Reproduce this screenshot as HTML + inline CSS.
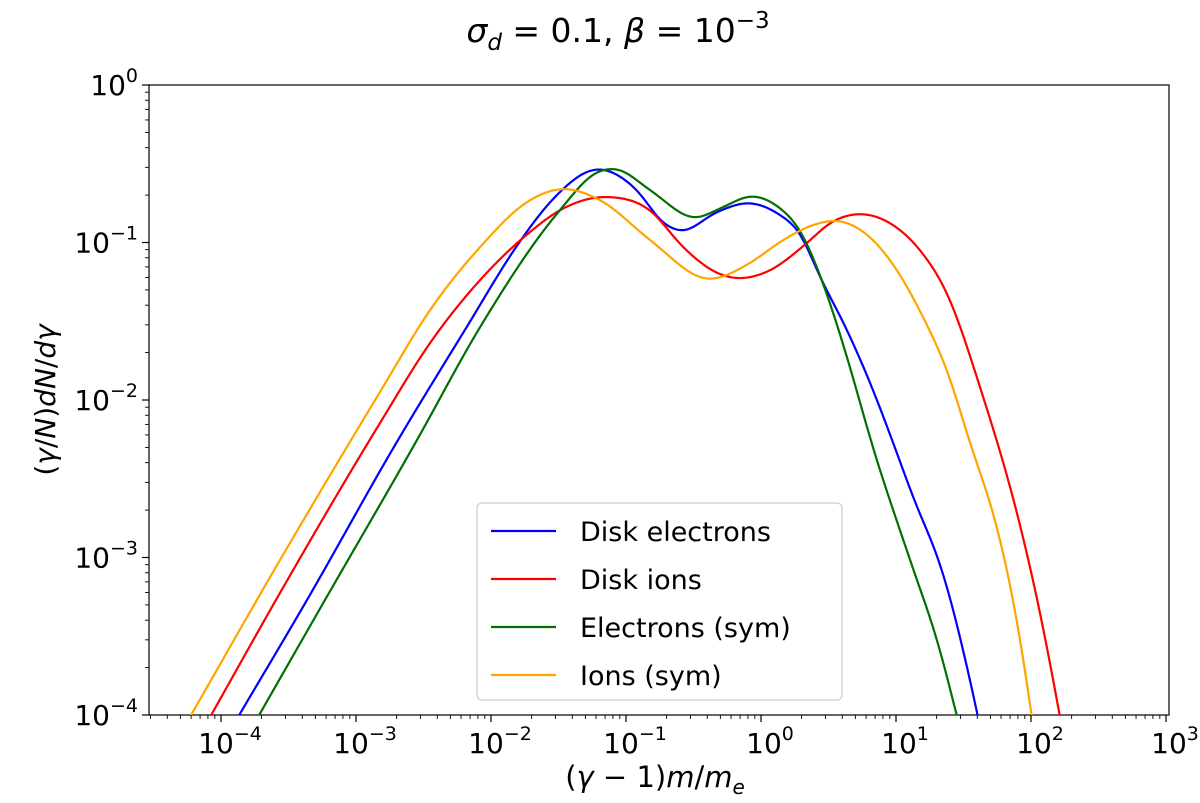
<!DOCTYPE html>
<html><head><meta charset="utf-8">
<style>
html,body{margin:0;padding:0;background:#fff;}
svg text{font-family:"DejaVu Sans","Liberation Sans",sans-serif;fill:#000;}
</style></head>
<body>
<svg id="chart" width="1200" height="798" viewBox="0 0 1200 798" xmlns="http://www.w3.org/2000/svg">
<defs><clipPath id="plotclip"><rect x="149" y="85" width="1020" height="630"/></clipPath></defs>
<text x="618" y="42" font-size="33" text-anchor="middle"><tspan font-style="italic">σ</tspan><tspan font-size="23" dy="8" font-style="italic">d</tspan><tspan dy="-8"> = 0.1, </tspan><tspan font-style="italic">β</tspan><tspan> = 10</tspan><tspan font-size="23" dy="-14">−3</tspan></text>
<rect x="149" y="85" width="1020" height="630" fill="none" stroke="#000" stroke-width="1.2"/>
<g id="ticks"></g>
<g id="series" clip-path="url(#plotclip)"></g>
<text x="655" y="787" font-size="29" text-anchor="middle">(<tspan font-style="italic">γ</tspan> − 1)<tspan font-style="italic">m</tspan>/<tspan font-style="italic">m</tspan><tspan font-size="20" dy="7" font-style="italic">e</tspan></text>
<text transform="translate(55,400) rotate(-90)" font-size="28" text-anchor="middle">(<tspan font-style="italic">γ</tspan>/<tspan font-style="italic">N</tspan>)<tspan font-style="italic">dN</tspan>/<tspan font-style="italic">dγ</tspan></text>
<g>
<rect x="477" y="503" width="365" height="197" rx="5" fill="#fff" fill-opacity="0.85" stroke="#ccc" stroke-width="1.2"/>
<g id="legend-entries"></g>
</g>
</svg>
<script>
// data in log10 space: x = (gamma-1) m/me, y = (gamma/N) dN/dgamma
const blueLogX = [-3.874,-3.363,-2.689,-2.207,-1.763,-1.548,-1.207,-0.919,-0.726,-0.600,-0.326,-0.081,0.141,0.289,0.437,0.637,0.830,0.993,1.126,1.348,1.548,1.607];
const blueLogY = [-4.013,-3.270,-2.254,-1.575,-0.965,-0.730,-0.533,-0.667,-0.876,-0.927,-0.806,-0.749,-0.825,-0.940,-1.219,-1.556,-1.937,-2.305,-2.616,-3.098,-3.778,-4.013];
const redLogX = [-4.081,-3.563,-2.822,-2.452,-2.081,-1.711,-1.489,-1.119,-0.822,-0.578,-0.326,-0.207,0.044,0.341,0.511,0.711,0.956,1.178,1.378,1.622,1.941,2.089,2.215];
const redLogY = [-4.013,-3.225,-2.146,-1.638,-1.238,-0.933,-0.794,-0.711,-0.794,-1.029,-1.194,-1.225,-1.187,-1.003,-0.876,-0.819,-0.876,-1.048,-1.321,-1.917,-2.870,-3.441,-4.013];
const greenLogX = [-3.726,-3.230,-2.548,-2.081,-1.489,-1.215,-1.067,-0.822,-0.489,-0.281,-0.067,0.141,0.289,0.459,0.637,0.830,1.104,1.326,1.452];
const greenLogY = [-4.013,-3.270,-2.254,-1.537,-0.794,-0.552,-0.533,-0.667,-0.844,-0.775,-0.705,-0.781,-0.921,-1.257,-1.727,-2.305,-3.016,-3.587,-4.013];
const orangeLogX = [-4.230,-3.563,-2.822,-2.452,-2.081,-1.711,-1.489,-1.193,-0.822,-0.400,-0.081,0.141,0.385,0.585,0.807,1.007,1.200,1.378,1.548,1.748,1.896,2.007];
const orangeLogY = [-4.013,-3.016,-1.949,-1.429,-1.029,-0.730,-0.660,-0.730,-0.984,-1.232,-1.130,-0.997,-0.889,-0.863,-0.965,-1.175,-1.473,-1.810,-2.273,-2.806,-3.397,-4.013];
const seriesNames = ["Disk electrons","Disk ions","Electrons (sym)","Ions (sym)"];
const seriesColors = ["#0000ff","#ff0000","#007000","#ffa500"];
const xTickExps = [-4,-3,-2,-1,0,1,2,3];
const yTickExps = [0,-1,-2,-3,-4];

const NS = "http://www.w3.org/2000/svg";
const X0 = 221, DX = 135;
const Y0 = 85, DY = 157.5;
function xs(lx){ return X0 + (lx + 4) * DX; }
function ys(ly){ return Y0 - ly * DY; }
function mk(tag, attrs, parent){ const e=document.createElementNS(NS,tag); for(const k in attrs) e.setAttribute(k,attrs[k]); parent.appendChild(e); return e; }

const ticks = document.getElementById('ticks');
for (let d=-5; d<3; d++){
  for (let m=1; m<10; m++){
    const px = xs(d + Math.log10(m));
    if (px < 149 || px > 1169.5) continue;
    const major = (m===1);
    const t = mk('line',{x1:px,x2:px,y1:715,y2:715+(major?7:4),stroke:'#000','stroke-width':major?1.2:0.9},ticks);
    
    
  }
}
{ const px = xs(3); const t=mk('line',{x1:px,x2:px,y1:715,y2:722,stroke:'#000','stroke-width':1.2},ticks);
    }
xTickExps.forEach(e=>{
  const px = xs(e);
  const t = mk('text',{x:px+9,y:753,'font-size':28,'text-anchor':'middle'},ticks);
  
  
  const a = mk('tspan',{},t); a.textContent='10';
  const b = mk('tspan',{'font-size':19,dy:-13}, t); b.textContent = (e<0?'−':'')+Math.abs(e);
});
for (let d=-4; d<=0; d++){
  for (let m=1; m<10; m++){
    const ly = d + Math.log10(m);
    if (ly > 0.0001) continue;
    const py = ys(ly);
    const major = (m===1);
    const t = mk('line',{x1:149-(major?7:4),x2:149,y1:py,y2:py,stroke:'#000','stroke-width':major?1.2:0.9},ticks);
    
    
  }
}
yTickExps.forEach(e=>{
  const py = ys(e);
  const t = mk('text',{x:138,y:py+10,'font-size':28,'text-anchor':'end'},ticks);
  
  
  const a = mk('tspan',{},t); a.textContent='10';
  const b = mk('tspan',{'font-size':19,dy:-13}, t); b.textContent = (e<0?'−':'')+Math.abs(e);
});

// Hermite interpolation in pixel space, sampled per pixel, then lightly smoothed
function pathFrom(lxArr, lyArr){
  const p = lxArr.map((v,i)=>[xs(v), ys(lyArr[i])]);
  const n = p.length;
  const sec = [];
  for (let i=0;i<n-1;i++) sec.push((p[i+1][1]-p[i][1])/(p[i+1][0]-p[i][0]));
  const m = [];
  for (let i=0;i<n;i++){
    if (i===0) m.push(sec[0]);
    else if (i===n-1) m.push(sec[n-2]);
    else {
      const h0 = p[i][0]-p[i-1][0], h1 = p[i+1][0]-p[i][0];
      m.push((sec[i-1]*h1 + sec[i]*h0)/(h0+h1));
    }
  }
  const sx = [], sy = [];
  let seg = 0;
  for (let x = p[0][0]; x <= p[n-1][0] + 1e-6; x += 1){
    while (seg < n-2 && x > p[seg+1][0]) seg++;
    const h = p[seg+1][0]-p[seg][0];
    const t = Math.min(1, Math.max(0, (x-p[seg][0])/h));
    const t2=t*t, t3=t2*t;
    const y = (2*t3-3*t2+1)*p[seg][1] + (t3-2*t2+t)*h*m[seg] + (-2*t3+3*t2)*p[seg+1][1] + (t3-t2)*h*m[seg+1];
    sx.push(x); sy.push(y);
  }
  sx.push(p[n-1][0]); sy.push(p[n-1][1]);
  const N = sy.length, sig = 6, out = [];
  for (let i=0;i<N;i++){
    const w = Math.min(18, i, N-1-i);
    let a=0, b=0;
    for (let k=-w;k<=w;k++){ const g=Math.exp(-k*k/(2*sig*sig)); a+=g*sy[i+k]; b+=g; }
    out.push(a/b);
  }
  let d = 'M'+sx[0].toFixed(2)+','+out[0].toFixed(2);
  for (let i=1;i<N;i++) d += ' L'+sx[i].toFixed(2)+','+out[i].toFixed(2);
  return d;
}
const sg = document.getElementById('series');
const allX = [blueLogX, redLogX, greenLogX, orangeLogX];
const allY = [blueLogY, redLogY, greenLogY, orangeLogY];
const lineNames = ['line-disk-electrons','line-disk-ions','line-electrons-sym','line-ions-sym'];
for (let s=0; s<4; s++){
  const el = mk('path',{d:pathFrom(allX[s], allY[s]),fill:'none',stroke:seriesColors[s],'stroke-width':2.2,'stroke-linejoin':'round'},sg);
  
  
}
const lg = document.getElementById('legend-entries');
for (let s=0; s<4; s++){
  const y = 531 + s*48;
  const g = mk('g',{},lg);
  
  
  mk('line',{x1:491,x2:556,y1:y,y2:y,stroke:seriesColors[s],'stroke-width':2.2},g);
  const t = mk('text',{x:580,y:y+10,'font-size':27},g);
  t.textContent = seriesNames[s];
}
</script>
</body></html>
